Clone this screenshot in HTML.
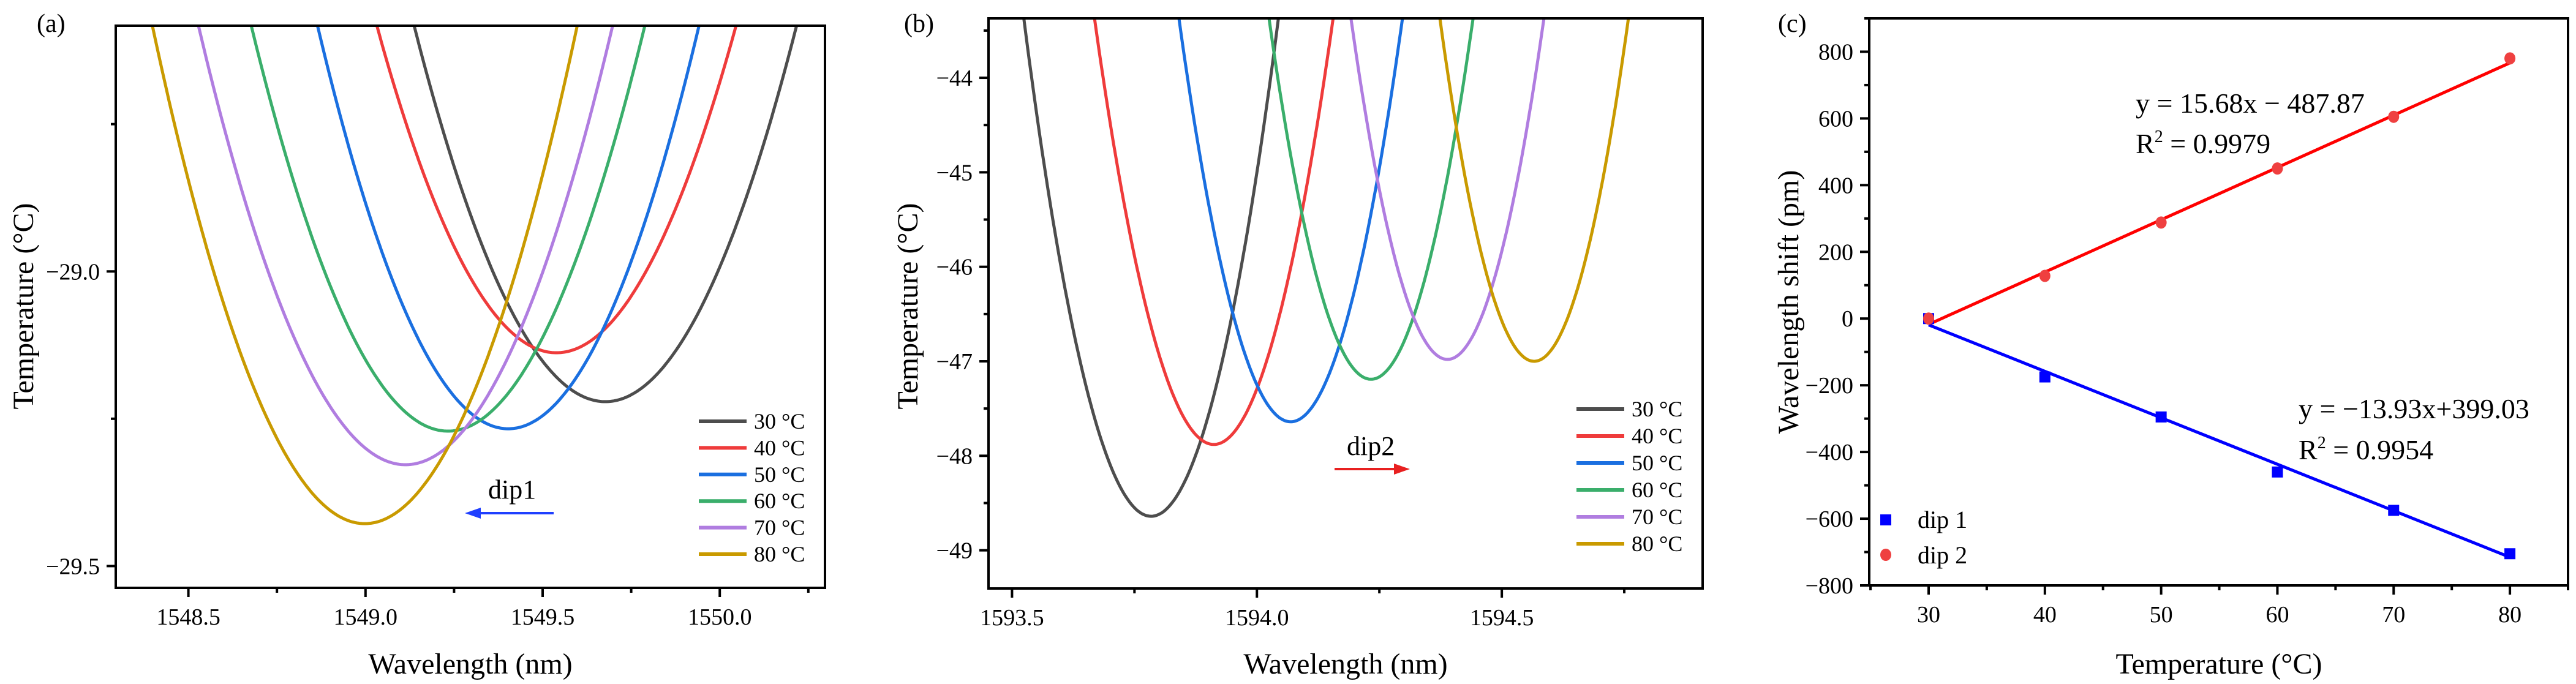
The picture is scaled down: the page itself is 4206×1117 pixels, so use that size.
<!DOCTYPE html>
<html><head><meta charset="utf-8"><style>
html,body{margin:0;padding:0;background:#fff}
svg{display:block;font-family:"Liberation Serif","Times New Roman",serif}
text{font-family:"Liberation Serif","Times New Roman",serif}
</style></head><body>
<svg id="fig" width="4206" height="1117" viewBox="0 0 4206 1117" font-family="Liberation Serif, serif">
<g id="pa"></g>
<g id="pb"></g>
<g id="pc"></g>
</svg>
<script>
// ---------- data ----------
const seriesLabels = ["30 °C","40 °C","50 °C","60 °C","70 °C","80 °C"];
const seriesColors = ["#4d4d4d","#ef3b3b","#1a6fe0","#3aae6b","#b07de0","#c99a00"];
// panel a (dip1)
const aCenters = [1549.677,1549.539,1549.403,1549.233,1549.113,1548.998];
const aMinima  = [-29.221,-29.138,-29.267,-29.271,-29.328,-29.428];
const aCurv    = [2.19,2.16,2.36,2.23,2.18,2.35];
const aXTicks = [1548.5,1549.0,1549.5,1550.0];
const aYTicks = [-29.0,-29.5];
// panel b (dip2)
const bCenters = [1593.784,1593.912,1594.069,1594.233,1594.389,1594.566];
const bMinima  = [-48.64,-47.88,-47.64,-47.19,-46.98,-47.0];
const bCurv    = [78,76,82,88,93,98];
const bXTicks = [1593.5,1594.0,1594.5];
const bYTicks = [-44,-45,-46,-47,-48,-49];
// panel c
const temps = [30,40,50,60,70,80];
const dip1Shift = [0,-175,-295,-460,-575,-705];
const dip2Shift = [0,128,288,450,605,780];
const fit1 = [-13.93,399.03];
const fit2 = [15.68,-487.87];
const cXTicks = [30,40,50,60,70,80];
const cYTicks = [-800,-600,-400,-200,0,200,400,600,800];

const NS="http://www.w3.org/2000/svg";
function mk(parent,tag,attrs,text){const e=document.createElementNS(NS,tag);for(const k in attrs)e.setAttribute(k,attrs[k]);if(text!==undefined)e.textContent=text;parent.appendChild(e);return e;}
function scale(d0,d1,p0,p1){return v=>p0+(v-d0)/(d1-d0)*(p1-p0);}
const FF="Liberation Serif, serif";

function frame(g,L,T,R,B,sx,sy,xt,xminor,yt,yminor,xfmt,yfmt){
  for(const v of xminor){const x=sx(v);const t=mk(g,"line",{x1:x,x2:x,y1:B,y2:B+8,stroke:"#000","stroke-width":4});
    }
  for(const v of xt){const x=sx(v);const t=mk(g,"line",{x1:x,x2:x,y1:B,y2:B+15,stroke:"#000","stroke-width":4});
    
    const l=mk(g,"text",{x:x,y:B+60,"font-size":38,"text-anchor":"middle","font-family":FF},xfmt(v));
    }
  for(const v of yminor){const y=sy(v);const t=mk(g,"line",{x1:L-8,x2:L,y1:y,y2:y,stroke:"#000","stroke-width":4});
    }
  for(const v of yt){const y=sy(v);const t=mk(g,"line",{x1:L-15,x2:L,y1:y,y2:y,stroke:"#000","stroke-width":4});
    
    const l=mk(g,"text",{x:L-26,y:y+13,"font-size":38,"text-anchor":"end","font-family":FF},yfmt(v));
    }
  const r=mk(g,"rect",{x:L,y:T,width:R-L,height:B-T,fill:"none",stroke:"#000","stroke-width":4});
  
}
const minus=s=>s.replace("-","\u2212");

function dipPanel(g,L,T,R,B,x0,x1,y0,y1,centers,minima,curv,xt,xminor,yt,yminor,xfmt,yfmt,legX,legY,legStep,clipId){
  const sx=scale(x0,x1,L,R), sy=scale(y0,y1,B,T);
  const defs=mk(g,"defs",{});const cp=mk(defs,"clipPath",{id:clipId});mk(cp,"rect",{x:L,y:T,width:R-L,height:B-T});
  const cg=mk(g,"g",{"clip-path":"url(#"+clipId+")"});
  centers.forEach((c,i)=>{
    let d="";const N=400;
    for(let j=0;j<=N;j++){const x=x0+(x1-x0)*j/N;const y=minima[i]+curv[i]*(x-c)*(x-c);
      d+=(j?"L":"M")+sx(x).toFixed(1)+","+sy(y).toFixed(1);}
    const p=mk(cg,"path",{d:d,fill:"none",stroke:seriesColors[i],"stroke-width":5});
    
    
  });
  frame(g,L,T,R,B,sx,sy,xt,xminor,yt,yminor,xfmt,yfmt);
  seriesLabels.forEach((s,i)=>{
    const y=legY+i*legStep;
    const ln=mk(g,"line",{x1:legX,x2:legX+78,y1:y,y2:y,stroke:seriesColors[i],"stroke-width":6});
    
    const t=mk(g,"text",{x:legX+90,y:y+12,"font-size":36,"font-family":FF},s);
    
  });
}

// panel a
const ga=document.getElementById("pa");
dipPanel(ga,189,42,1347,960,1548.295,1550.297,-29.537,-28.583,aCenters,aMinima,aCurv,aXTicks,[1548.75,1549.25,1549.75,1550.25],aYTicks,[-28.75,-29.25],v=>v.toFixed(1),v=>minus(v.toFixed(1)),1141,688,43.4,"ca");
// panel b
const gb=document.getElementById("pb");
dipPanel(gb,1614,30,2780,961,1593.452,1594.91,-49.404,-43.371,bCenters,bMinima,bCurv,bXTicks,[1593.75,1594.25,1594.75],bYTicks,[-43.5,-44.5,-45.5,-46.5,-47.5,-48.5],v=>v.toFixed(1),v=>minus(String(v)),2574,668,44,"cb");

// panel c
const gc=document.getElementById("pc");
(function(){
  const L=3052,T=30,R=4193,B=956;
  const sx=scale(24.89,85.0,L,R), sy=scale(-800,900,B,T);
  const xm=[25,35,45,55,65,75,85], ym=[-700,-500,-300,-100,100,300,500,700,900];
  frame(gc,L,T,R,B,sx,sy,cXTicks,xm,cYTicks,ym,v=>String(v),v=>minus(String(v)));
  const xa=temps[0], xb=temps[temps.length-1];
  const f2=mk(gc,"line",{x1:sx(xa),y1:sy(fit2[0]*xa+fit2[1]),x2:sx(xb),y2:sy(fit2[0]*xb+fit2[1]),stroke:"#ff0000","stroke-width":5});
  
  const f1=mk(gc,"line",{x1:sx(xa),y1:sy(fit1[0]*xa+fit1[1]),x2:sx(xb),y2:sy(fit1[0]*xb+fit1[1]),stroke:"#0000ff","stroke-width":5});
  
  temps.forEach((t,i)=>{
    const s=mk(gc,"rect",{x:sx(t)-9,y:sy(dip1Shift[i])-9,width:18,height:18,fill:"#0000ff"});
    
  });
  temps.forEach((t,i)=>{
    const c=mk(gc,"ellipse",{cx:sx(t),cy:sy(dip2Shift[i]),rx:9,ry:10,fill:"#ef4040"});
    
  });
  const l1=mk(gc,"rect",{x:3070,y:840,width:18,height:18,fill:"#0000ff"});
  
  const l1t=mk(gc,"text",{x:3131,y:862,"font-size":40,"font-family":FF},"dip 1");
  
  const l2=mk(gc,"ellipse",{cx:3079,cy:906,rx:9,ry:10,fill:"#ef4040"});
  
  const l2t=mk(gc,"text",{x:3131,y:920,"font-size":40,"font-family":FF},"dip 2");
  
})();
</script>
<!-- static text -->
<svg width="4206" height="1117" viewBox="0 0 4206 1117" style="position:absolute;left:0;top:0" font-family="Liberation Serif, serif">
<text x="60" y="52" font-size="42">(a)</text>
<text x="1476" y="52" font-size="42">(b)</text>
<text x="2903" y="52" font-size="42">(c)</text>
<text x="768" y="1100" font-size="48" text-anchor="middle">Wavelength (nm)</text>
<text transform="translate(54,500) rotate(-90)" font-size="48" text-anchor="middle">Temperature (°C)</text>
<text x="2197" y="1100" font-size="48" text-anchor="middle">Wavelength (nm)</text>
<text transform="translate(1498,500) rotate(-90)" font-size="48" text-anchor="middle">Temperature (°C)</text>
<text x="3623" y="1100" font-size="48" text-anchor="middle">Temperature (°C)</text>
<text transform="translate(2936,493) rotate(-90)" font-size="48" text-anchor="middle">Wavelength shift (pm)</text>
<text x="797" y="814" font-size="44">dip1</text>
<line x1="904" y1="838" x2="780" y2="838" stroke="#1f3fff" stroke-width="4"/>
<polygon points="759,838 785,829 785,847" fill="#1f3fff"/>
<text x="2199" y="743" font-size="44">dip2</text>
<line x1="2179" y1="766" x2="2280" y2="766" stroke="#e82020" stroke-width="4"/>
<polygon points="2302,766 2276,757 2276,775" fill="#e82020"/>
<text x="3487" y="184" font-size="46">y = 15.68x − 487.87</text>
<text x="3487" y="250" font-size="46">R<tspan dy="-18" font-size="28">2</tspan><tspan dy="18"> = 0.9979</tspan></text>
<text x="3753" y="683" font-size="46">y = −13.93x+399.03</text>
<text x="3753" y="750" font-size="46">R<tspan dy="-18" font-size="28">2</tspan><tspan dy="18"> = 0.9954</tspan></text>
</svg>
</body></html>
